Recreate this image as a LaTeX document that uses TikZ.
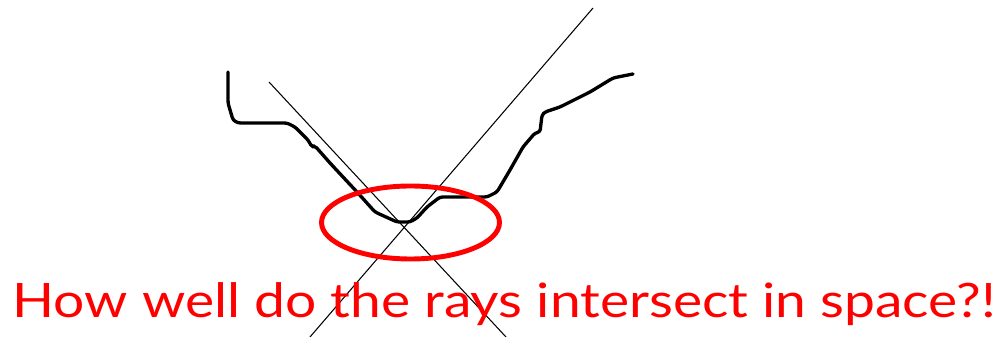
\documentclass[tikz,border=0pt]{standalone}
\usepackage{fontspec}
\setmainfont{Lato}
\usetikzlibrary{shapes.geometric}
\begin{document}
\begin{tikzpicture}[x=0.02cm, y=-0.02cm]
    \useasboundingbox (0,0) rectangle (1004,337);
    % the two rays
    \coordinate (ra) at (269,82);
    \coordinate (rb) at (506,337);
    \coordinate (sa) at (593,8);
    \coordinate (sb) at (310,337);
    \draw[line width=0.6pt] (ra) -- (rb);
    \draw[line width=0.6pt] (sa) -- (sb);
    % surface profile
    \draw[line width=1.9pt, line join=round, line cap=round, rounded corners=1.5pt]
        (228,72) -- (228,103) -- (233,120) -- (238,123) -- (287,123) -- (295,127)
        -- (308,140) -- (312,147) -- (315,146) -- (330,163) -- (343,177) -- (357,192)
        -- (375,212) -- (397,222) -- (410,222) -- (417,218) -- (427,207) -- (440,197)
        -- (487,197) -- (497,192) -- (510,170) -- (523,147) -- (535,133) -- (540,132)
        -- (542,115) -- (545,112) -- (560,107) -- (590,92) -- (613,78) -- (633,74);
    % region of uncertainty
    \node[draw=red, line width=2.8pt, ellipse, minimum width=178*0.02cm, minimum height=73*0.02cm, inner sep=0pt] (blob) at (410.5,222.5) {};
    \node[anchor=base west, inner sep=0pt, text=red, xscale=1.163, font=\fontsize{27}{30}\selectfont] (q) at (12,318) {How well do the rays intersect in space?!};
\end{tikzpicture}
\end{document}
